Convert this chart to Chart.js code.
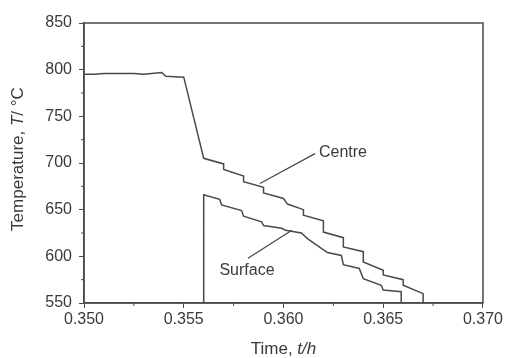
<!DOCTYPE html>
<html>
<head>
<meta charset="utf-8">
<script src="https://cdn.jsdelivr.net/npm/chart.js@4.4.0/dist/chart.umd.min.js"></script>
<style>
  html, body { margin: 0; padding: 0; background: #fff; }
  #wrap { width: 505px; height: 358px; position: relative; }
</style>
</head>
<body>
<div id="wrap"><canvas id="myChart"></canvas></div>
<script>
// time (h) and temperature (°C)
const centreTime = [0.350, 0.3505, 0.351, 0.352, 0.3525, 0.353, 0.3539, 0.3541, 0.355, 0.356,
    0.357, 0.357, 0.358, 0.358, 0.359, 0.359, 0.360, 0.3602, 0.361, 0.361, 0.362, 0.362,
    0.363, 0.363, 0.364, 0.364, 0.365, 0.365, 0.366, 0.366, 0.367, 0.367];
const centreTemp = [795, 795, 796, 796, 796, 795, 797, 793, 792, 705,
    699, 693, 686, 680, 674, 668, 662, 656, 650, 644, 638, 626,
    620, 610, 605, 594, 585, 580, 575, 569, 560, 550];

const surfaceTime = [0.356, 0.356, 0.3568, 0.3569, 0.3579, 0.358, 0.3589, 0.359, 0.3599, 0.3601,
    0.3609, 0.3612, 0.3622, 0.3629, 0.363, 0.3638, 0.364, 0.3649, 0.365, 0.3659, 0.3659];
const surfaceTemp = [550, 666, 661, 655, 649, 643, 637, 633, 630, 628,
    625, 619, 604, 601, 591, 587, 576, 569, 564, 562, 550];

const xTicks = [0.350, 0.355, 0.360, 0.365, 0.370];
const yTicks = [550, 600, 650, 700, 750, 800, 850];

// labels and pointer lines, in data units
const labels = [
    { text: 'Centre', t: 0.36298, T: 711 },
    { text: 'Surface', t: 0.35817, T: 585 }
];
const pointers = [
    [[0.36158, 710], [0.35882, 678]],
    [[0.35822, 598], [0.36042, 628]]
];

const ink = '#4a4a4a';
const textInk = '#3a3a3a';
const font = '"Liberation Sans", Arial, sans-serif';

function pairs(xs, ys) {
    return xs.map(function(x, i) { return { x: x, y: ys[i] }; });
}

const datasets = [
    { data: pairs(centreTime, centreTemp) },
    { data: pairs(surfaceTime, surfaceTemp) }
];
pointers.forEach(function(p) {
    datasets.push({ data: p.map(function(v) { return { x: v[0], y: v[1] }; }), borderWidth: 1.3 });
});

const extras = {
    id: 'extras',
    afterDraw(chart) {
        const c = chart.ctx;
        const a = chart.chartArea;
        const xs = chart.scales.x, ys = chart.scales.y;
        c.save();
        // frame
        c.strokeStyle = ink;
        c.lineWidth = 1.5;
        c.strokeRect(a.left, a.top, a.right - a.left, a.bottom - a.top);
        // minor ticks
        c.lineWidth = 1;
        for (let i = 0; i < xTicks.length - 1; i++) {
            const px = xs.getPixelForValue((xTicks[i] + xTicks[i + 1]) / 2);
            c.beginPath(); c.moveTo(px, a.bottom); c.lineTo(px, a.bottom + 3); c.stroke();
        }
        for (let i = 0; i < yTicks.length - 1; i++) {
            const py = ys.getPixelForValue((yTicks[i] + yTicks[i + 1]) / 2);
            c.beginPath(); c.moveTo(a.left, py); c.lineTo(a.left - 3, py); c.stroke();
        }
        // curve labels
        c.fillStyle = textInk;
        c.font = '16px ' + font;
        c.textAlign = 'center';
        c.textBaseline = 'middle';
        labels.forEach(function(l) {
            c.fillText(l.text, xs.getPixelForValue(l.t), ys.getPixelForValue(l.T));
        });
        // x title with italic part
        const cx = (a.left + a.right) / 2;
        drawMixed(c, [['Time, ', ''], ['t/h', 'italic ']], cx, 349);
        // y title
        c.translate(18, (a.top + a.bottom) / 2 - 4);
        c.rotate(-Math.PI / 2);
        drawMixed(c, [['Temperature, ', ''], ['T', 'italic '], ['/ °C', '']], 0, 0);
        c.restore();
    }
};

function drawMixed(c, parts, cx, cy) {
    let total = 0;
    parts.forEach(function(p) {
        c.font = p[1] + '17px ' + font;
        total += c.measureText(p[0]).width;
    });
    let x = cx - total / 2;
    c.textAlign = 'left';
    c.textBaseline = 'middle';
    parts.forEach(function(p) {
        c.font = p[1] + '17px ' + font;
        c.fillText(p[0], x, cy);
        x += c.measureText(p[0]).width;
    });
}

const ctx = document.getElementById('myChart').getContext('2d');
const myChart = new Chart(ctx, {
    type: 'line',
    data: { datasets: datasets },
    options: {
        responsive: true,
        maintainAspectRatio: false,
        animation: false,
        layout: { padding: { top: 23, right: 22, left: 0, bottom: 0 } },
        elements: {
            line: { borderColor: ink, borderWidth: 1.5, tension: 0, fill: false },
            point: { radius: 0 }
        },
        plugins: { legend: { display: false }, tooltip: { enabled: false } },
        scales: {
            x: {
                type: 'linear',
                min: 0.350,
                max: 0.370,
                afterFit(scale) { scale.height = 55; },
                afterBuildTicks(scale) { scale.ticks = xTicks.map(function(v) { return { value: v }; }); },
                border: { color: ink, width: 1.5 },
                grid: { drawOnChartArea: false, tickLength: 5, tickColor: ink, tickWidth: 1 },
                ticks: {
                    color: textInk,
                    font: { family: font, size: 16 },
                    padding: 2,
                    maxRotation: 0,
                    callback: function(v) { return Number(v).toFixed(3); }
                }
            },
            y: {
                min: 550,
                max: 850,
                afterFit(scale) { scale.width = 84; },
                afterBuildTicks(scale) { scale.ticks = yTicks.map(function(v) { return { value: v }; }); },
                border: { color: ink, width: 1.5 },
                grid: { drawOnChartArea: false, tickLength: 5, tickColor: ink, tickWidth: 1 },
                ticks: {
                    color: textInk,
                    font: { family: font, size: 16 },
                    padding: 7
                }
            }
        }
    },
    plugins: [extras]
});
</script>
</body>
</html>
